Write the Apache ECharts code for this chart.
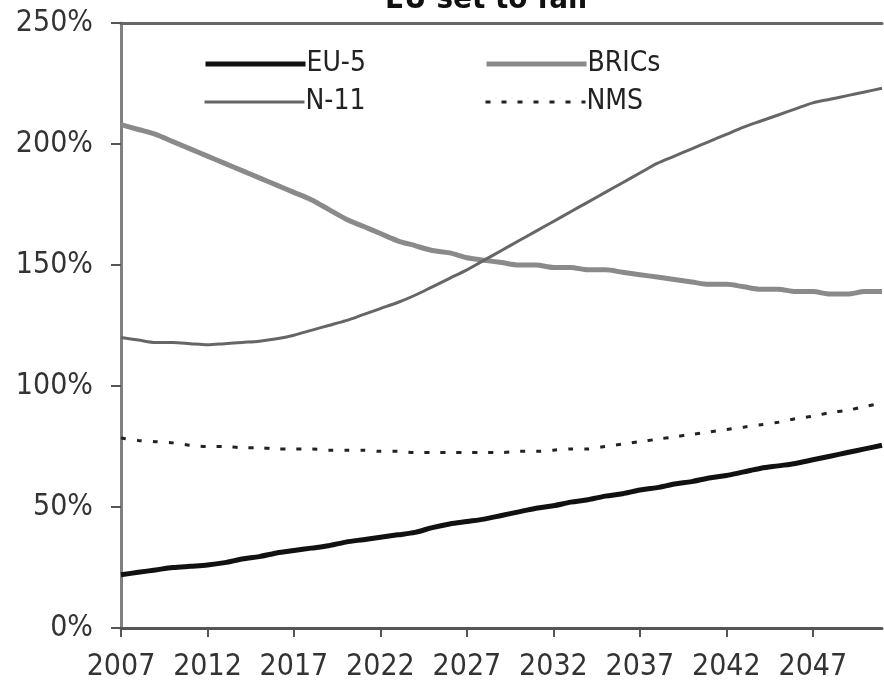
<!DOCTYPE html>
<html>
<head>
<meta charset="utf-8">
<script src="https://cdn.jsdelivr.net/npm/echarts@6/dist/echarts.min.js"></script>
<style>
html,body{margin:0;padding:0;background:#fff;}
#chart{width:884px;height:683px;}
</style>
</head>
<body>
<div id="chart"></div>
<script>
var titleText = 'EU set to fall';
var years = [];
for (var y = 2007; y <= 2051; y++) years.push(String(y));

var seriesNames = ['EU-5', 'BRICs', 'N-11', 'NMS'];

var eu5 = [22, 23, 24, 25, 25.5, 26, 27, 28.5, 29.5, 31, 32, 33, 34, 35.5, 36.5, 37.5, 38.5, 39.5, 41.5, 43, 44, 45, 46.5, 48, 49.5, 50.5, 52, 53, 54.5, 55.5, 57, 58, 59.5, 60.5, 62, 63, 64.5, 66, 67, 68, 69.5, 71, 72.5, 74, 75.5];

var brics = [208, 206, 204, 201, 198, 195, 192, 189, 186, 183, 180, 177, 173, 169, 166, 163, 160, 158, 156, 155, 153, 152, 151, 150, 150, 149, 149, 148, 148, 147, 146, 145, 144, 143, 142, 142, 141, 140, 140, 139, 139, 138, 138, 139, 139];

var n11 = [120, 119, 118, 118, 117.5, 117, 117.5, 118, 118.5, 119.5, 121, 123, 125, 127, 129.5, 132, 134.5, 137.5, 141, 144.5, 148, 152, 156, 160, 164, 168, 172, 176, 180, 184, 188, 192, 195, 198, 201, 204, 207, 209.5, 212, 214.5, 217, 218.5, 220, 221.5, 223];

var nms = [78.5, 77.5, 77, 76.5, 75.5, 75, 75, 74.5, 74.5, 74, 74, 74, 73.5, 73.5, 73.5, 73, 73, 72.5, 72.5, 72.5, 72.5, 72.5, 72.5, 73, 73, 73.5, 74, 74, 75, 76, 77, 78, 79, 80, 81, 82, 83, 84, 85, 86.5, 87.5, 89, 90, 91.5, 93];

var yMin = 0, yMax = 250, yStep = 50;

var FONT = '"Liberation Sans Narrow", "Arial Narrow", "DejaVu Sans Condensed", "Liberation Sans", Arial, sans-serif';

var styles = {
  'EU-5': {color: '#111', width: 5, type: 'solid'},
  'BRICs': {color: '#8a8a8a', width: 5, type: 'solid'},
  'N-11': {color: '#666', width: 3, type: 'solid'},
  'NMS': {color: '#222', width: 3, type: [5, 11]}
};

var chart = echarts.init(document.getElementById('chart'));

function legendAt(name, left, top) {
  var s = styles[name];
  return {
    data: [name], left: left, top: top, orient: 'horizontal',
    itemWidth: 100, itemHeight: 14, itemGap: 0, padding: 0,
    itemStyle: {opacity: 0},
    lineStyle: {color: s.color, width: s.width, type: s.type},
    textStyle: {fontFamily: FONT, fontSize: 28, color: '#222', padding: [0, 0, 0, -4]},
    selectedMode: false
  };
}

function lineSeries(name, data) {
  var s = styles[name];
  return {name: name, type: 'line', data: data, symbol: 'none', smooth: 0.3,
    lineStyle: {color: s.color, width: s.width, type: s.type}, itemStyle: {color: s.color}};
}

var option = {
  backgroundColor: '#fff',
  animation: false,
  title: {
    text: titleText, left: 380, top: -21,
    textStyle: {fontFamily: FONT, fontSize: 31, fontWeight: 'bold', color: '#111'}
  },
  legend: [
    legendAt(seriesNames[0], 203, 50),
    legendAt(seriesNames[1], 484, 50),
    legendAt(seriesNames[2], 203, 88),
    legendAt(seriesNames[3], 484, 88)
  ],
  grid: {left: 121, top: 23, right: 2, bottom: 55, containLabel: false},
  xAxis: [{
    type: 'category', data: years, boundaryGap: false,
    axisLine: {lineStyle: {color: '#555', width: 3}},
    axisTick: {show: true, interval: 4, length: 9, lineStyle: {color: '#555', width: 2}},
    axisLabel: {interval: 4, margin: 24, fontFamily: FONT, fontSize: 30, color: '#333'},
    splitLine: {show: false}
  }, {
    type: 'category', data: years, boundaryGap: false, position: 'top',
    axisLine: {lineStyle: {color: '#666', width: 3}},
    axisTick: {show: false}, axisLabel: {show: false}, splitLine: {show: false}
  }],
  yAxis: {
    type: 'value', min: yMin, max: yMax, interval: yStep,
    axisLine: {show: true, lineStyle: {color: '#808080', width: 3}},
    axisTick: {show: true, inside: false, length: 10, lineStyle: {color: '#555', width: 2}},
    axisLabel: {formatter: '{value}%', margin: 28, fontFamily: FONT, fontSize: 30, color: '#333'},
    splitLine: {show: false}
  },
  series: [
    lineSeries(seriesNames[0], eu5),
    lineSeries(seriesNames[1], brics),
    lineSeries(seriesNames[2], n11),
    lineSeries(seriesNames[3], nms)
  ]
};
chart.setOption(option);
</script>
</body>
</html>
